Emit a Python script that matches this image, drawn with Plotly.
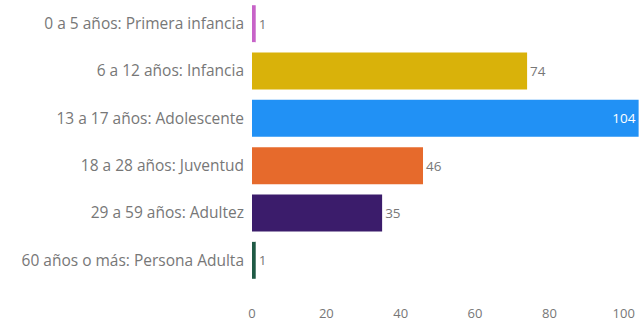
import plotly.graph_objects as go

categories = [
    "0 a 5 años: Primera infancia",
    "6 a 12 años: Infancia",
    "13 a 17 años: Adolescente",
    "18 a 28 años: Juventud",
    "29 a 59 años: Adultez",
    "60 años o más: Persona Adulta",
]
values = [1, 74, 104, 46, 35, 1]
colors = ["#c763c8", "#d9b20a", "#2191f5", "#e66a2c", "#3b1c6b", "#1f5a45"]
tick_vals = [0, 20, 40, 60, 80, 100]

text_pos = ["inside" if v > 100 else "outside" for v in values]
text_col = ["#ffffff" if v > 100 else "#777777" for v in values]

fig = go.Figure(go.Bar(
    x=values, y=categories, orientation="h",
    marker=dict(color=colors, line=dict(width=0)),
    text=[str(v) for v in values], textposition=text_pos,
    insidetextanchor="end",
    textfont=dict(color=text_col, size=13.5, family="Open Sans"),
    cliponaxis=False,
))
fig.update_layout(
    width=639, height=321,
    margin=dict(l=252, r=0, t=0, b=37, autoexpand=False),
    paper_bgcolor="white", plot_bgcolor="white",
    bargap=0.22,
    showlegend=False,
    font=dict(family="Open Sans", size=14, color="#777777"),
)
fig.update_yaxes(autorange="reversed", showgrid=False, zeroline=False,
                 ticks="", ticklabelstandoff=7, showline=False, automargin=False,
                 tickfont=dict(size=15.5))
fig.update_xaxes(range=[0, 104.1], tickvals=tick_vals, showgrid=False,
                 zeroline=False, showline=False, ticks="", ticklabelstandoff=20,
                 automargin=False, tickfont=dict(size=13))
fig.write_html("out.html", config={"displayModeBar": False},
               post_script="document.body.style.margin='0';document.body.style.overflow='hidden';")
